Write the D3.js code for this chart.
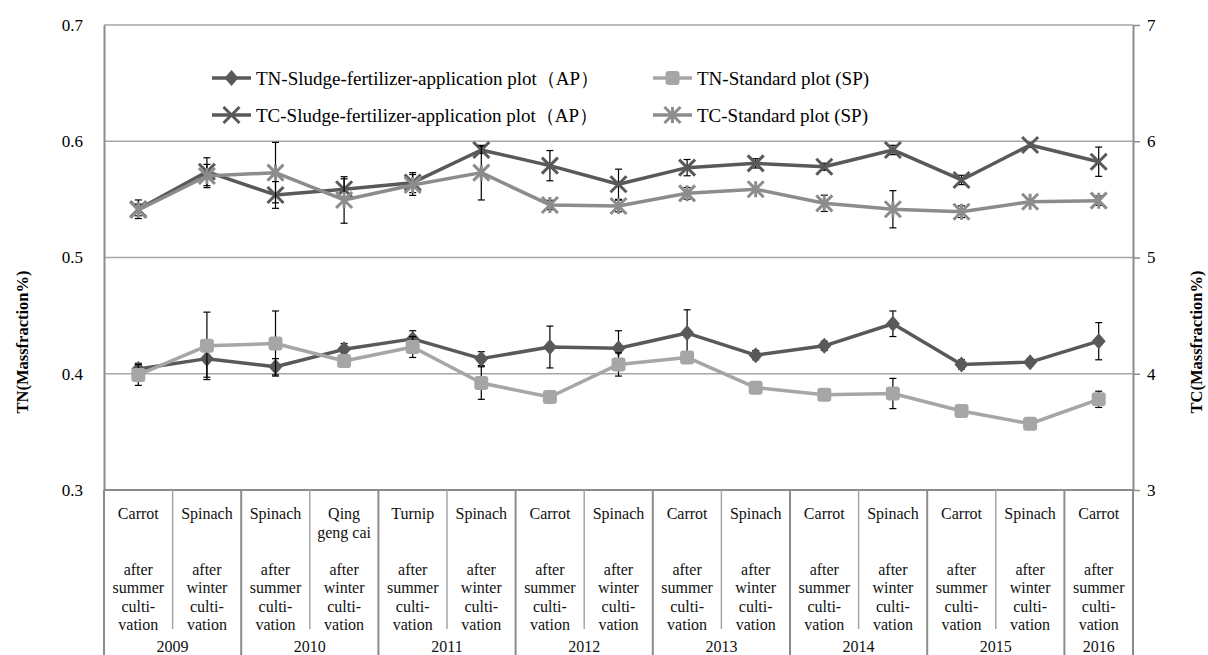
<!DOCTYPE html>
<html>
<head>
<meta charset="utf-8">
<script src="https://cdn.jsdelivr.net/npm/d3@7"></script>
<style>
  body { margin: 0; background: #fff; }
  svg { display: block; }
  svg text { font-family: "Liberation Serif", "Times New Roman", serif; }
</style>
</head>
<body>
<div class="container"></div>
<script>
// categories
const crops = ["Carrot", "Spinach", "Spinach", "Qing\ngeng cai", "Turnip", "Spinach", "Carrot", "Spinach",
               "Carrot", "Spinach", "Carrot", "Spinach", "Carrot", "Spinach", "Carrot"];
const seasons = ["summer", "winter", "summer", "winter", "summer", "winter", "summer", "winter",
                 "summer", "winter", "summer", "winter", "summer", "winter", "summer"];
const years = ["2009", "2010", "2011", "2012", "2013", "2014", "2015", "2016"];
const yearSpan = [2, 2, 2, 2, 2, 2, 2, 1];

// series values (TN left axis, TC right axis)
const tnAP    = [0.404, 0.413, 0.406, 0.421, 0.430, 0.413, 0.423, 0.422, 0.435, 0.416, 0.424, 0.443, 0.408, 0.410, 0.428];
const tnAPErr = [0.005, 0.016, 0.007, 0.005, 0.007, 0.006, 0.018, 0.015, 0.020, 0.004, 0.004, 0.011, 0.004, 0.003, 0.016];
const tnSP    = [0.399, 0.424, 0.426, 0.411, 0.423, 0.392, 0.380, 0.408, 0.414, 0.388, 0.382, 0.383, 0.368, 0.357, 0.378];
const tnSPErr = [0.009, 0.029, 0.028, 0.004, 0.009, 0.014, 0.004, 0.010, 0.004, 0.003, 0.003, 0.013, 0.003, 0.003, 0.007];
const tcAP    = [5.415, 5.738, 5.538, 5.587, 5.644, 5.925, 5.790, 5.630, 5.773, 5.810, 5.781, 5.925, 5.667, 5.968, 5.824];
const tcAPErr = [0.08, 0.12, 0.115, 0.09, 0.086, 0.03, 0.13, 0.13, 0.07, 0.04, 0.03, 0.04, 0.04, 0.02, 0.126];
const tcSP    = [5.409, 5.701, 5.730, 5.495, 5.624, 5.730, 5.452, 5.443, 5.552, 5.587, 5.466, 5.415, 5.394, 5.480, 5.489];
const tcSPErr = [0.05, 0.10, 0.26, 0.20, 0.09, 0.235, 0.04, 0.05, 0.05, 0.02, 0.07, 0.16, 0.05, 0.02, 0.04];

// tick labels
const tnTicks = [0.3, 0.4, 0.5, 0.6, 0.7];
const tcTicks = [3, 4, 5, 6, 7];

const width = 1208;
const height = 655;
const plotLeft = 104, plotRight = 1133, plotTop = 25, plotBottom = 490;
const serif = "'Liberation Serif', 'Times New Roman', serif";

const svg = d3.select(".container").append("svg")
    .attr("width", width)
    .attr("height", height)
    .attr("font-family", serif);

const x = d3.scaleBand()
    .domain(d3.range(crops.length))
    .range([plotLeft, plotRight])
    .padding(0);
const cx = i => x(i) + x.bandwidth() / 2;

const yTN = d3.scaleLinear().domain([0.3, 0.7]).range([plotBottom, plotTop]);
const yTC = d3.scaleLinear().domain([3, 7]).range([plotBottom, plotTop]);

// gridlines
svg.append("g")
    .selectAll("line")
    .data(tnTicks.slice(1))
    .join("line")
    .attr("x1", plotLeft).attr("x2", plotRight)
    .attr("y1", d => yTN(d)).attr("y2", d => yTN(d))
    .attr("stroke", "#a6a6a6")
    .attr("stroke-width", 1.5);

// left axis (labels only, no ticks)
const leftAxis = svg.append("g")
    .attr("transform", `translate(${plotLeft},0)`)
    .call(d3.axisLeft(yTN).tickValues(tnTicks).tickFormat(d3.format(".1f")).tickSize(0).tickPadding(21));
leftAxis.attr("font-family", serif);
leftAxis.select(".domain").attr("stroke", "#8c8c8c").attr("stroke-width", 2);
leftAxis.selectAll("text").attr("font-size", 17).attr("fill", "#000");

// right axis
const rightAxis = svg.append("g")
    .attr("transform", `translate(${plotRight},0)`)
    .call(d3.axisRight(yTC).tickValues(tcTicks).tickFormat(d3.format("d")).tickSizeInner(7).tickSizeOuter(0).tickPadding(7));
rightAxis.attr("font-family", serif);
rightAxis.select(".domain").attr("stroke", "#8c8c8c").attr("stroke-width", 2);
rightAxis.selectAll(".tick line").attr("stroke", "#8c8c8c").attr("stroke-width", 1.5);
rightAxis.selectAll("text").attr("font-size", 17).attr("fill", "#000");

// axis titles
svg.append("text")
    .attr("transform", `translate(24,342) rotate(-90)`)
    .attr("text-anchor", "middle")
    .attr("dominant-baseline", "middle")
    .attr("font-size", 16.5)
    .attr("font-weight", "bold")
    .text("TN(Massfraction%)");

svg.append("text")
    .attr("transform", `translate(1198,342) rotate(-90)`)
    .attr("text-anchor", "middle")
    .attr("dominant-baseline", "middle")
    .attr("font-size", 16.5)
    .attr("font-weight", "bold")
    .text("TC(Massfraction%)");

// category axis: bottom line, dividers, labels
const cat = svg.append("g");
cat.append("line")
    .attr("x1", plotLeft).attr("x2", plotRight)
    .attr("y1", plotBottom).attr("y2", plotBottom)
    .attr("stroke", "#8c8c8c").attr("stroke-width", 2);

let yearEdges = [0];
yearSpan.forEach(n => yearEdges.push(yearEdges[yearEdges.length - 1] + n));

d3.range(crops.length + 1).forEach(i => {
    const xx = i < crops.length ? x(i) : plotRight;
    const full = yearEdges.includes(i);
    cat.append("line")
        .attr("x1", xx).attr("x2", xx)
        .attr("y1", plotBottom).attr("y2", full ? height : 629)
        .attr("stroke", full ? "#8c8c8c" : "#a6a6a6")
        .attr("stroke-width", full ? 2 : 1.5);
});

crops.forEach((c, i) => {
    const cropLines = c.split("\n");
    const lines = cropLines.concat(["", "", "after", seasons[i], "culti-", "vation"].slice(cropLines.length - 1));
    const t = cat.append("text")
        .attr("text-anchor", "middle")
        .attr("font-size", 16)
        .attr("fill", "#111");
    lines.forEach((l, k) => {
        t.append("tspan")
            .attr("x", cx(i))
            .attr("y", 519 + k * 18.5)
            .text(l);
    });
});

years.forEach((yr, k) => {
    const x0 = x(yearEdges[k]);
    const x1 = yearEdges[k + 1] < crops.length ? x(yearEdges[k + 1]) : plotRight;
    cat.append("text")
        .attr("x", (x0 + x1) / 2)
        .attr("y", 652)
        .attr("text-anchor", "middle")
        .attr("font-size", 16)
        .attr("fill", "#111")
        .text(yr);
});

// marker shapes
function drawMarker(g, type, px, py, color) {
    if (type === "diamond") {
        g.append("path")
            .attr("d", `M${px},${py - 8}L${px + 7},${py}L${px},${py + 8}L${px - 7},${py}Z`)
            .attr("fill", color);
    } else if (type === "square") {
        g.append("rect")
            .attr("x", px - 7).attr("y", py - 7)
            .attr("width", 14).attr("height", 14)
            .attr("rx", 3)
            .attr("fill", color);
    } else {
        const s = 8;
        g.append("path")
            .attr("d", `M${px - s},${py - s}L${px + s},${py + s}M${px - s},${py + s}L${px + s},${py - s}` +
                (type === "star" ? `M${px},${py - s}L${px},${py + s}` : ""))
            .attr("stroke", color)
            .attr("stroke-width", 3)
            .attr("fill", "none");
    }
}

const series = [
    { values: tnAP, err: tnAPErr, y: yTN, color: "#595959", marker: "diamond" },
    { values: tnSP, err: tnSPErr, y: yTN, color: "#a6a6a6", marker: "square" },
    { values: tcAP, err: tcAPErr, y: yTC, color: "#595959", marker: "cross" },
    { values: tcSP, err: tcSPErr, y: yTC, color: "#8c8c8c", marker: "star" }
];

series.forEach(s => {
    const g = svg.append("g");
    const line = d3.line().x((d, i) => cx(i)).y(d => s.y(d));
    g.append("path")
        .datum(s.values)
        .attr("d", line)
        .attr("fill", "none")
        .attr("stroke", s.color)
        .attr("stroke-width", 3.5)
        .attr("stroke-linejoin", "round");

    // error bars (under the markers)
    const eb = g.append("g").attr("stroke", "#000").attr("stroke-width", 1.2);
    s.values.forEach((v, i) => {
        const y0 = s.y(v - s.err[i]), y1 = s.y(v + s.err[i]);
        const px = cx(i);
        eb.append("line").attr("x1", px).attr("x2", px).attr("y1", y0).attr("y2", y1);
        eb.append("line").attr("x1", px - 3.5).attr("x2", px + 3.5).attr("y1", y0).attr("y2", y0);
        eb.append("line").attr("x1", px - 3.5).attr("x2", px + 3.5).attr("y1", y1).attr("y2", y1);
    });

    s.values.forEach((v, i) => drawMarker(g, s.marker, cx(i), s.y(v), s.color));
});

// legend
const legendItems = [
    { label: "TN-Sludge-fertilizer-application plot（AP）", s: series[0], lx: 212, ly: 78 },
    { label: "TN-Standard plot (SP)", s: series[1], lx: 653, ly: 78 },
    { label: "TC-Sludge-fertilizer-application plot（AP）", s: series[2], lx: 212, ly: 115 },
    { label: "TC-Standard plot (SP)", s: series[3], lx: 653, ly: 115 }
];

legendItems.forEach(d => {
    const g = svg.append("g");
    g.append("line")
        .attr("x1", d.lx).attr("x2", d.lx + 39)
        .attr("y1", d.ly).attr("y2", d.ly)
        .attr("stroke", d.s.color)
        .attr("stroke-width", 3.5);
    drawMarker(g, d.s.marker, d.lx + 19.5, d.ly, d.s.color);
    g.append("text")
        .attr("x", d.lx + 44)
        .attr("y", d.ly)
        .attr("dominant-baseline", "central")
        .attr("font-size", 19)
        .attr("fill", "#000")
        .text(d.label);
});
</script>
</body>
</html>
